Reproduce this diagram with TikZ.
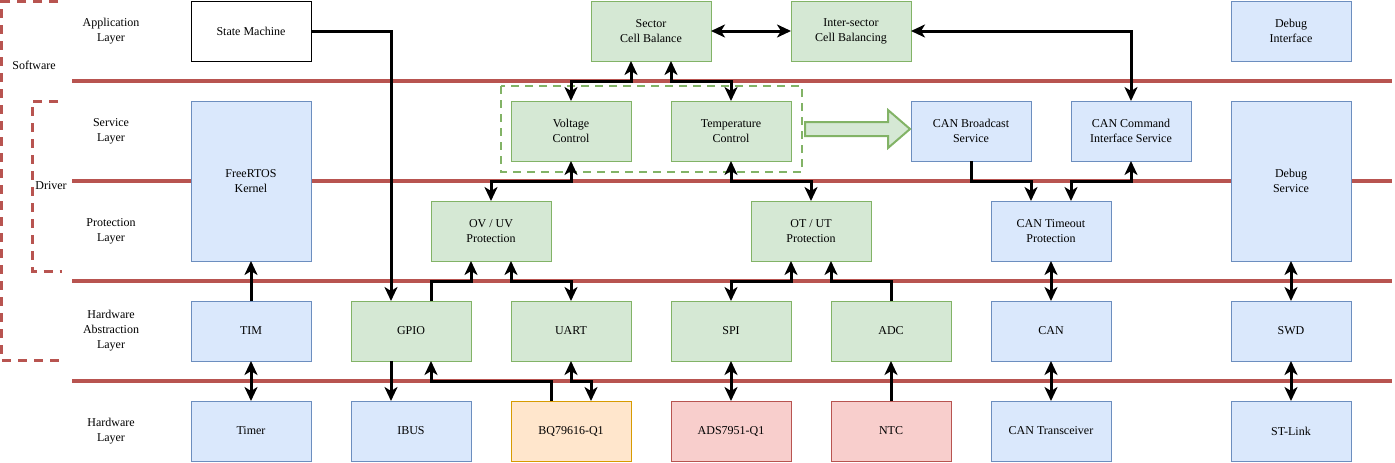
\documentclass[tikz,border=0pt]{standalone}
\usepackage{fontspec}
\setmainfont{Liberation Serif}
\usetikzlibrary{arrows.meta}
\definecolor{bluef}{HTML}{DAE8FC}
\definecolor{blued}{HTML}{6C8EBF}
\definecolor{greenf}{HTML}{D5E8D4}
\definecolor{greend}{HTML}{82B366}
\definecolor{orangef}{HTML}{FFE6CC}
\definecolor{oranged}{HTML}{D79B00}
\definecolor{redf}{HTML}{F8CECC}
\definecolor{redd}{HTML}{B85450}
\begin{document}
\begin{tikzpicture}[x=1pt,y=-1pt,
  box/.style={draw, line width=1pt, minimum width=120pt, minimum height=60pt, inner sep=0pt, outer sep=0pt, align=center, font=\fontsize{12}{15}\selectfont},
  plainbox/.style={box, draw=black, fill=white},
  bluebox/.style={box, draw=blued, fill=bluef},
  greenbox/.style={box, draw=greend, fill=greenf},
  orangebox/.style={box, draw=oranged, fill=orangef},
  redbox/.style={box, draw=redd, fill=redf},
  tallbox/.style={minimum height=160pt},
  lbl/.style={align=center, inner sep=0pt, font=\fontsize{12}{15}\selectfont},
  layerline/.style={draw=redd, line width=4pt},
  bracket/.style={draw=redd, line width=3pt, dash pattern=on 9pt off 7pt},
  tipA/.tip={Stealth[length=14pt,width=13pt,inset=4pt]},
  conn/.style={line width=3pt, -tipA},
  bi/.style={line width=3pt, tipA-tipA}
]
\useasboundingbox (0,0) rectangle (1395,463);

% layer separators
\draw[layerline] (72,81) -- (1392,81);
\draw[layerline] (72,181) -- (1392,181);
\draw[layerline] (72,281) -- (1392,281);
\draw[layerline] (72,381) -- (1392,381);

% brackets
\draw[bracket] (58,1.5) -- (1.5,1.5) -- (1.5,360.5) -- (62,360.5);
\draw[bracket] (58,101) -- (32,101) -- (32,271.5) -- (62,271.5);

% labels
\node[lbl] (lsw) at (34,65) {Software};
\node[lbl] (ldrv) at (51,186) {Driver};
\node[lbl] (lapp) at (111,31) {Application\\Layer};
\node[lbl] (lsrv) at (111,131) {Service\\Layer};
\node[lbl] (lprot) at (111,231) {Protection\\Layer};
\node[lbl] (lhal) at (111,331) {Hardware\\Abstraction\\Layer};
\node[lbl] (lhw) at (111,431) {Hardware\\Layer};

% dashed group
\draw[draw=greend, line width=2pt, dash pattern=on 8pt off 6pt] (501,86) rectangle (802,172);

% boxes - application
\node[plainbox] (sm) at (251,31) {State Machine};
\node[greenbox] (scb) at (651,31) {Sector\\Cell Balance};
\node[greenbox] (isc) at (851,31) {Inter-sector\\Cell Balancing};
\node[bluebox] (dbgi) at (1291,31) {Debug\\Interface};
% service
\node[bluebox, tallbox] (rtos) at (251,181) {FreeRTOS\\Kernel};
\node[greenbox] (vc) at (571,131) {Voltage\\Control};
\node[greenbox] (tc) at (731,131) {Temperature\\Control};
\node[bluebox] (cbs) at (971,131) {CAN Broadcast\\Service};
\node[bluebox] (cci) at (1131,131) {CAN Command\\Interface Service};
\node[bluebox, tallbox] (dbgs) at (1291,181) {Debug\\Service};
% protection
\node[greenbox] (ovuv) at (491,231) {OV / UV\\Protection};
\node[greenbox] (otut) at (811,231) {OT / UT\\Protection};
\node[bluebox] (cto) at (1051,231) {CAN Timeout\\Protection};
% HAL
\node[bluebox] (tim) at (251,331) {TIM};
\node[greenbox] (gpio) at (411,331) {GPIO};
\node[greenbox] (uart) at (571,331) {UART};
\node[greenbox] (spi) at (731,331) {SPI};
\node[greenbox] (adc) at (891,331) {ADC};
\node[bluebox] (can) at (1051,331) {CAN};
\node[bluebox] (swd) at (1291,331) {SWD};
% hardware
\node[bluebox] (timer) at (251,431) {Timer};
\node[bluebox] (ibus) at (411,431) {IBUS};
\node[orangebox] (bq) at (571,431) {BQ79616-Q1};
\node[redbox] (ads) at (731,431) {ADS7951-Q1};
\node[redbox] (ntc) at (891,431) {NTC};
\node[bluebox] (cant) at (1051,431) {CAN Transceiver};
\node[bluebox] (stl) at (1291,431) {ST-Link};

% big green arrow
\draw[draw=greend, fill=greenf, line width=2pt, line join=miter]
  (805,122) -- (888,122) -- (888,110) -- (910,129) -- (888,148) -- (888,136) -- (805,136) -- cycle;

% connectors
\draw[conn] (sm.east) -| ([xshift=-20pt]gpio.north);
\draw[conn] (tim.north) -- (rtos.south);
\draw[bi] (tim.south) -- (timer.north);
\draw[conn] ([xshift=-20pt]gpio.south) -- ([xshift=-20pt]ibus.north);
\draw[conn] ([xshift=-20pt]bq.north) -- ++(0,-20) -| ([xshift=20pt]gpio.south);
\draw[bi] (uart.south) -- ++(0,20) -| ([xshift=20pt]bq.north);
\draw[conn] ([xshift=20pt]gpio.north) -- ++(0,-20) -| ([xshift=-20pt]ovuv.south);
\draw[bi] ([xshift=20pt]ovuv.south) -- ++(0,20) -| (uart.north);
\draw[bi] (vc.south) -- ++(0,20) -| (ovuv.north);
\draw[bi] (tc.south) -- ++(0,20) -| (otut.north);
\draw[bi] (vc.north) -- ++(0,-20) -| ([xshift=-20pt]scb.south);
\draw[bi] (tc.north) -- ++(0,-20) -| ([xshift=20pt]scb.south);
\draw[bi] (scb.east) -- (isc.west);
\draw[bi] (cci.north) |- (isc.east);
\draw[conn] (cbs.south) -- ++(0,20) -| ([xshift=-20pt]cto.north);
\draw[bi] ([xshift=20pt]cto.north) -- ++(0,-20) -| (cci.south);
\draw[bi] (cto.south) -- (can.north);
\draw[bi] (can.south) -- (cant.north);
\draw[bi] (dbgs.south) -- (swd.north);
\draw[bi] (swd.south) -- (stl.north);
\draw[bi] (spi.north) -- ++(0,-20) -| ([xshift=-20pt]otut.south);
\draw[conn] (adc.north) -- ++(0,-20) -| ([xshift=20pt]otut.south);
\draw[bi] (spi.south) -- (ads.north);
\draw[conn] (ntc.north) -- (adc.south);
\end{tikzpicture}
\end{document}
